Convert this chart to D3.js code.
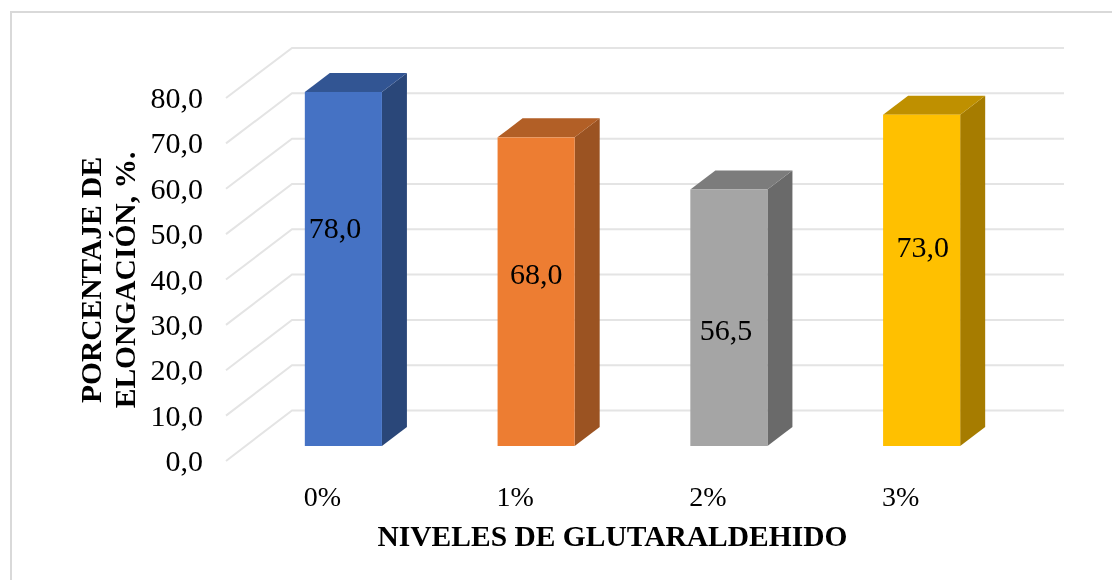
<!DOCTYPE html>
<html><head><meta charset="utf-8">
<script src="https://cdn.jsdelivr.net/npm/d3@7"></script>
<style>html,body{margin:0;padding:0;background:#fff}svg{display:block}text{font-family:"Liberation Serif",serif;fill:#000}</style>
</head><body><svg id="c" width="1112" height="580"></svg>
<script>
const categories=["0%","1%","2%","3%"];
const values=[78.0,68.0,56.5,73.0];
const labels=["78,0","68,0","56,5","73,0"];
const labelHeights=[45.8,35.6,23.3,41.6];
const labelShifts=[-8.5,0,-3,1];
const yTicks=[0,10,20,30,40,50,60,70,80];
const frontColors=["#4472c4","#ed7d31","#a5a5a5","#ffc000"];
const topColors=["#335593","#b25e25","#7c7c7c","#bf9000"];
const sideColors=["#2a4779","#9b5220","#6a6a6a","#a67c00"];

const svg=d3.select("#c");
svg.append("defs").append("filter").attr("id","soft").attr("x","-2%").attr("y","-2%").attr("width","104%").attr("height","104%")
  .append("feGaussianBlur").attr("stdDeviation",0.45);
const root=svg.append("g").attr("filter","url(#soft)");
root.append("rect").attr("x",0).attr("y",0).attr("width",1112).attr("height",580).attr("fill","#fff");
root.append("path").attr("d","M11,640V12H1200").attr("fill","none").attr("stroke","#d9d9d9").attr("stroke-width",2);

const dx=25,dy=19;
const x=d3.scaleBand().domain(categories).range([247,1018]).paddingInner(0.6).paddingOuter(0.3);
const y=d3.scaleLinear().domain([0,80]).range([446,82.9]);
const bw=x.bandwidth();
const gb=d3.scaleLinear().domain([0,80]).range([410.5,48]);
const gf=d3.scaleLinear().domain([0,80]).range([461,98]);
const g=root.append("g").attr("fill","none").attr("stroke","#e4e4e4").attr("stroke-width",2);
yTicks.forEach(t=>{g.append("path").attr("d",`M226,${gf(t)}L292,${gb(t)}L1064,${gb(t)}`);});

categories.forEach((c,i)=>{
  const l=x(c),r=l+bw,b=y(0),t=y(values[i]);
  root.append("path").attr("fill",sideColors[i]).attr("d",`M${r},${b}L${r+dx},${b-dy}L${r+dx},${t-dy}L${r},${t}Z`);
  root.append("path").attr("fill",topColors[i]).attr("d",`M${l},${t}L${l+dx},${t-dy}L${r+dx},${t-dy}L${r},${t}Z`);
  root.append("rect").attr("x",l).attr("y",t).attr("width",bw).attr("height",b-t).attr("fill",frontColors[i]);
  root.append("text").attr("x",l+bw/2+labelShifts[i]).attr("y",y(labelHeights[i])).attr("text-anchor","middle").attr("font-size",30).text(labels[i]);
  root.append("text").attr("x",l+bw/2-21).attr("y",506).attr("text-anchor","middle").attr("font-size",28).text(c);
});
yTicks.forEach(t=>{
  root.append("text").attr("x",203).attr("y",gf(t)+10).attr("text-anchor","end").attr("font-size",30).text(d3.format(".1f")(t).replace(".",","));
});
root.append("text").attr("x",612.5).attr("y",546).attr("text-anchor","middle").attr("font-size",29.5).attr("font-weight","bold").text("NIVELES DE GLUTARALDEHIDO");
const yt=root.append("text").attr("transform","translate(101,280) rotate(-90)").attr("text-anchor","middle").attr("font-size",29.5).attr("font-weight","bold");
yt.append("tspan").attr("x",0).attr("y",0).text("PORCENTAJE DE");
yt.append("tspan").attr("x",0).attr("y",34).text("ELONGACIÓN, %.");
</script></body></html>
